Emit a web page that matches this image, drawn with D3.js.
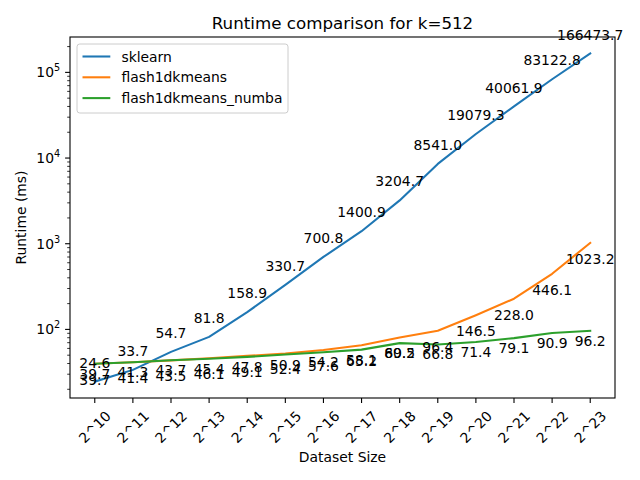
<!DOCTYPE html>
<html>
<head>
<meta charset="utf-8">
<script src="https://cdn.jsdelivr.net/npm/d3@7"></script>
<style>
  body { margin: 0; background: #fff; }
  svg { font-family: "DejaVu Sans", sans-serif; }
</style>
</head>
<body>
<svg id="chart" width="640" height="480"></svg>
<script>
// data
const sizes = ['2^10', '2^11', '2^12', '2^13', '2^14', '2^15', '2^16', '2^17', '2^18', '2^19', '2^20', '2^21', '2^22', '2^23'];
const sklearn = [24.6, 33.7, 54.7, 81.8, 158.9, 330.7, 700.8, 1400.9, 3204.7, 8541.0, 19079.3, 40061.9, 83122.8, 166473.7];
const flash = [39.7, 41.4, 43.5, 46.1, 49.1, 52.4, 57.6, 65.2, 80.5, 96.4, 146.5, 228.0, 446.1, 1023.2];
const flashNumba = [39.7, 41.3, 43.7, 45.4, 47.8, 50.9, 54.2, 58.1, 69.2, 66.8, 71.4, 79.1, 90.9, 96.2];
const yTicks = [100, 1000, 10000, 100000];

const series = [
	{ name: 'sklearn', values: sklearn, color: '#1f77b4', dy: -13.9 },
	{ name: 'flash1dkmeans', values: flash, color: '#ff7f0e', dy: 20.8 },
	{ name: 'flash1dkmeans_numba', values: flashNumba, color: '#2ca02c', dy: 15 }
];

// margin conventions (plot box in page pixels)
const box = { left: 70, right: 615, top: 37, bottom: 398 };
const svg = d3.select('#chart');

// x: category index with matplotlib-style 5% padding
const n = sizes.length;
const x = d3.scaleLinear()
	.domain([-0.05 * (n - 1), (n - 1) * 1.05])
	.range([box.left, box.right]);

// y: log with 5% padding in log space
const all = [].concat(sklearn, flash, flashNumba);
const lmin = Math.log10(d3.min(all)), lmax = Math.log10(d3.max(all));
const pad = (lmax - lmin) * 0.05;
const y = d3.scaleLog()
	.domain([Math.pow(10, lmin - pad), Math.pow(10, lmax + pad)])
	.range([box.bottom, box.top]);

// title
svg.append('text')
	.attr('x', (box.left + box.right) / 2)
	.attr('y', 29)
	.attr('text-anchor', 'middle')
	.style('font-size', '16.7px')
	.text('Runtime comparison for k=512');

// lines
const line = d3.line()
	.x((d, i) => x(i))
	.y(d => y(d));

series.forEach(s => {
	svg.append('path')
		.datum(s.values)
		.attr('d', line)
		.attr('fill', 'none')
		.attr('stroke', s.color)
		.attr('stroke-width', 2.08)
		.attr('stroke-linejoin', 'round')
		.attr('stroke-linecap', 'square');
});

// value labels
series.forEach(s => {
	svg.append('g')
		.selectAll('text')
		.data(s.values)
		.enter()
		.append('text')
		.attr('x', (d, i) => x(i))
		.attr('y', d => y(d) + s.dy)
		.attr('text-anchor', 'middle')
		.style('font-size', '13.9px')
		.text(d => d.toFixed(1));
});

// frame
svg.append('rect')
	.attr('x', box.left)
	.attr('y', box.top)
	.attr('width', box.right - box.left)
	.attr('height', box.bottom - box.top)
	.attr('fill', 'none')
	.attr('stroke', '#000')
	.attr('stroke-width', 1.1);

// x axis ticks and rotated labels
const xAxis = svg.append('g');
sizes.forEach((label, i) => {
	xAxis.append('line')
		.attr('x1', x(i)).attr('x2', x(i))
		.attr('y1', box.bottom).attr('y2', box.bottom + 4.9)
		.attr('stroke', '#000').attr('stroke-width', 1.1);
	const t = xAxis.append('text')
		.style('font-size', '13.9px')
		.attr('text-anchor', 'middle')
		.attr('dominant-baseline', 'central')
		.text(label);
	const w = t.node().getComputedTextLength();
	const h = 16.2;
	const cy = box.bottom + 9.8 + (w + h) * Math.SQRT1_2 / 2;
	t.attr('x', x(i)).attr('y', cy)
		.attr('transform', 'rotate(-45,' + x(i) + ',' + cy + ')');
});

svg.append('text')
	.attr('x', (box.left + box.right) / 2)
	.attr('y', 462)
	.attr('text-anchor', 'middle')
	.style('font-size', '13.9px')
	.text('Dataset Size');

// y axis: major and minor ticks
const yAxis = svg.append('g');
const [d0, d1] = y.domain();
for (let e = Math.floor(Math.log10(d0)); e <= Math.ceil(Math.log10(d1)); e++) {
	for (let m = 1; m < 10; m++) {
		const v = m * Math.pow(10, e);
		if (v < d0 || v > d1) continue;
		yAxis.append('line')
			.attr('x1', box.left).attr('x2', box.left - (m === 1 ? 4.9 : 2.8))
			.attr('y1', y(v)).attr('y2', y(v))
			.attr('stroke', '#000').attr('stroke-width', m === 1 ? 1.1 : 0.8);
	}
}
yTicks.forEach(v => {
	const t = yAxis.append('text')
		.attr('x', box.left - 9.8)
		.attr('y', y(v) + 5)
		.attr('text-anchor', 'end')
		.style('font-size', '13.9px');
	t.append('tspan').text('10');
	t.append('tspan')
		.attr('dy', -6)
		.style('font-size', '9.7px')
		.text(Math.round(Math.log10(v)));
});

svg.append('text')
	.attr('transform', 'translate(26,' + ((box.top + box.bottom) / 2) + ') rotate(-90)')
	.attr('text-anchor', 'middle')
	.style('font-size', '13.9px')
	.text('Runtime (ms)');

// legend
const legend = svg.append('g').attr('transform', 'translate(77,44)');
legend.append('rect')
	.attr('width', 211)
	.attr('height', 69)
	.attr('rx', 2.8)
	.attr('fill', '#fff')
	.attr('fill-opacity', 0.8)
	.attr('stroke', '#cccccc')
	.attr('stroke-width', 1);
series.forEach((s, i) => {
	const ly = 12.5 + i * 20.8;
	legend.append('line')
		.attr('x1', 5.5).attr('x2', 33.3)
		.attr('y1', ly).attr('y2', ly)
		.attr('stroke', s.color)
		.attr('stroke-width', 2.08);
	legend.append('text')
		.attr('x', 44.4)
		.attr('y', ly + 5)
		.style('font-size', '13.9px')
		.text(s.name);
});
</script>
</body>
</html>
